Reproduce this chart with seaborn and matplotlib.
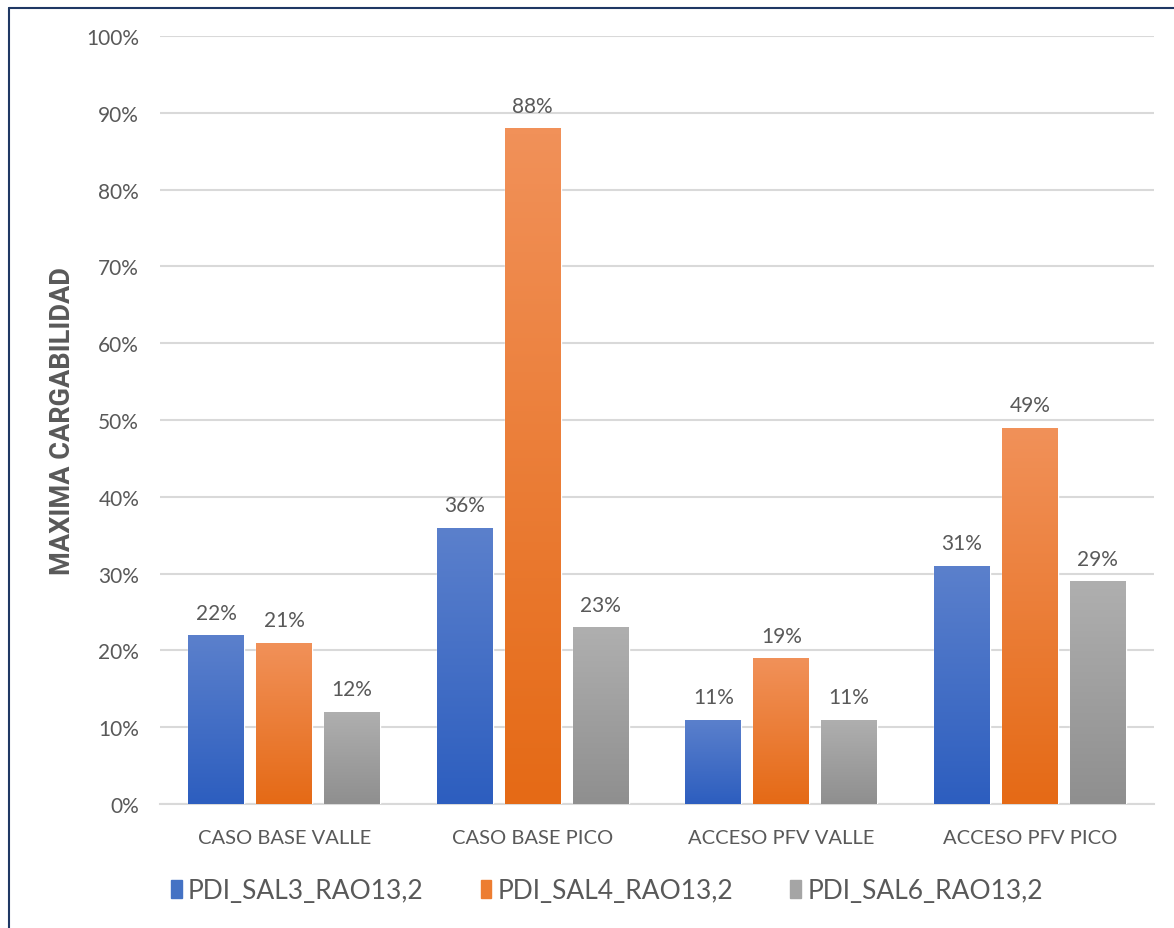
import numpy as np
import pandas as pd
import matplotlib
matplotlib.use("Agg")
import matplotlib.pyplot as plt
import seaborn as sns
from matplotlib.colors import LinearSegmentedColormap
from matplotlib.lines import Line2D
from matplotlib.ticker import FuncFormatter

# datos
casos = ["CASO BASE VALLE", "CASO BASE PICO", "ACCESO PFV VALLE", "ACCESO PFV PICO"]
series = ["PDI_SAL3_RAO13,2", "PDI_SAL4_RAO13,2", "PDI_SAL6_RAO13,2"]
sal3 = [22, 36, 11, 31]
sal4 = [21, 88, 19, 49]
sal6 = [12, 23, 11, 29]

colores = ["#4472c4", "#ed7d31", "#a5a5a5"]
degradado = [("#5b80cc", "#2d5ebf"), ("#f19159", "#e56a16"), ("#afafaf", "#8f8f8f")]
gris_texto = "#595959"

sns.set_theme(style="white")
plt.rcParams["font.family"] = ["Lato", "DejaVu Sans"]

df = pd.DataFrame({
    "Caso": casos * 3,
    "Serie": [s for s in series for _ in casos],
    "Valor": sal3 + sal4 + sal6,
})

fig = plt.figure(figsize=(11.74, 9.29), dpi=100)
W, H = 1174, 929
ax = fig.add_axes([160 / W, 1 - 805 / H, (1154 - 160) / W, (805 - 37) / H])

sns.barplot(data=df, x="Caso", y="Valor", hue="Serie", order=casos, hue_order=series,
            palette=colores, width=0.82, gap=0.18, ax=ax, legend=False, zorder=3)

ax.set_ylim(0, 100)
ax.set_xlim(-0.5, len(casos) - 0.5)
ax.set_yticks(range(0, 101, 10))
ax.yaxis.set_major_formatter(FuncFormatter(lambda v, p: f"{v:.0f}%"))
ax.grid(axis="y", color="#d9d9d9", linewidth=1.5, zorder=0)
ax.grid(axis="x", visible=False)
for s in ["top", "right", "left"]:
    ax.spines[s].set_visible(False)
ax.spines["bottom"].set_color("#d9d9d9")
ax.spines["bottom"].set_linewidth(1.5)
ax.tick_params(axis="both", length=0, labelcolor=gris_texto)
ax.tick_params(axis="x", pad=18, labelsize=14.5)
ax.tick_params(axis="y", pad=15, labelsize=15)
ax.set_xlabel("")
ax.set_ylabel("MAXIMA CARGABILIDAD", fontsize=19.5, fontweight="bold", color=gris_texto,
              labelpad=7, family=["Roboto", "DejaVu Sans"])

# relleno degradado en cada barra
for cont, (c_top, c_bot) in zip(ax.containers, degradado):
    cmap = LinearSegmentedColormap.from_list("g", [c_bot, c_top])
    for bar in cont:
        x0, w, h = bar.get_x(), bar.get_width(), bar.get_height()
        grad = np.linspace(1, 0, 100).reshape(-1, 1)
        img = ax.imshow(grad, extent=[x0, x0 + w, 0, h], aspect="auto", cmap=cmap,
                        vmin=0, vmax=1, zorder=3.5, interpolation="bicubic")
        img.set_clip_path(bar)
    ax.bar_label(cont, labels=[f"{v:.0f}%" for v in cont.datavalues], padding=9,
                 fontsize=15, color=gris_texto)

ax.set_xlim(-0.5, len(casos) - 0.5)
ax.set_ylim(0, 100)

handles = [plt.Rectangle((0, 0), 1, 1, color=c) for c in colores]
fig.legend(handles, series, loc="center", bbox_to_anchor=(607 / W, 1 - 892 / H), ncol=3,
           frameon=False, fontsize=19, handlelength=0.4, handleheight=0.65,
           handletextpad=0.25, columnspacing=2.15, labelcolor=gris_texto)

# borde del recuadro
borde = "#1f3864"
fig.add_artist(Line2D([8.5 / W, 8.5 / W], [0, 1 - 8.5 / H], color=borde, lw=1.5))
fig.add_artist(Line2D([8.5 / W, 1], [1 - 8.5 / H, 1 - 8.5 / H], color=borde, lw=1.5))

fig.savefig("out.png", dpi=100, facecolor="white")
